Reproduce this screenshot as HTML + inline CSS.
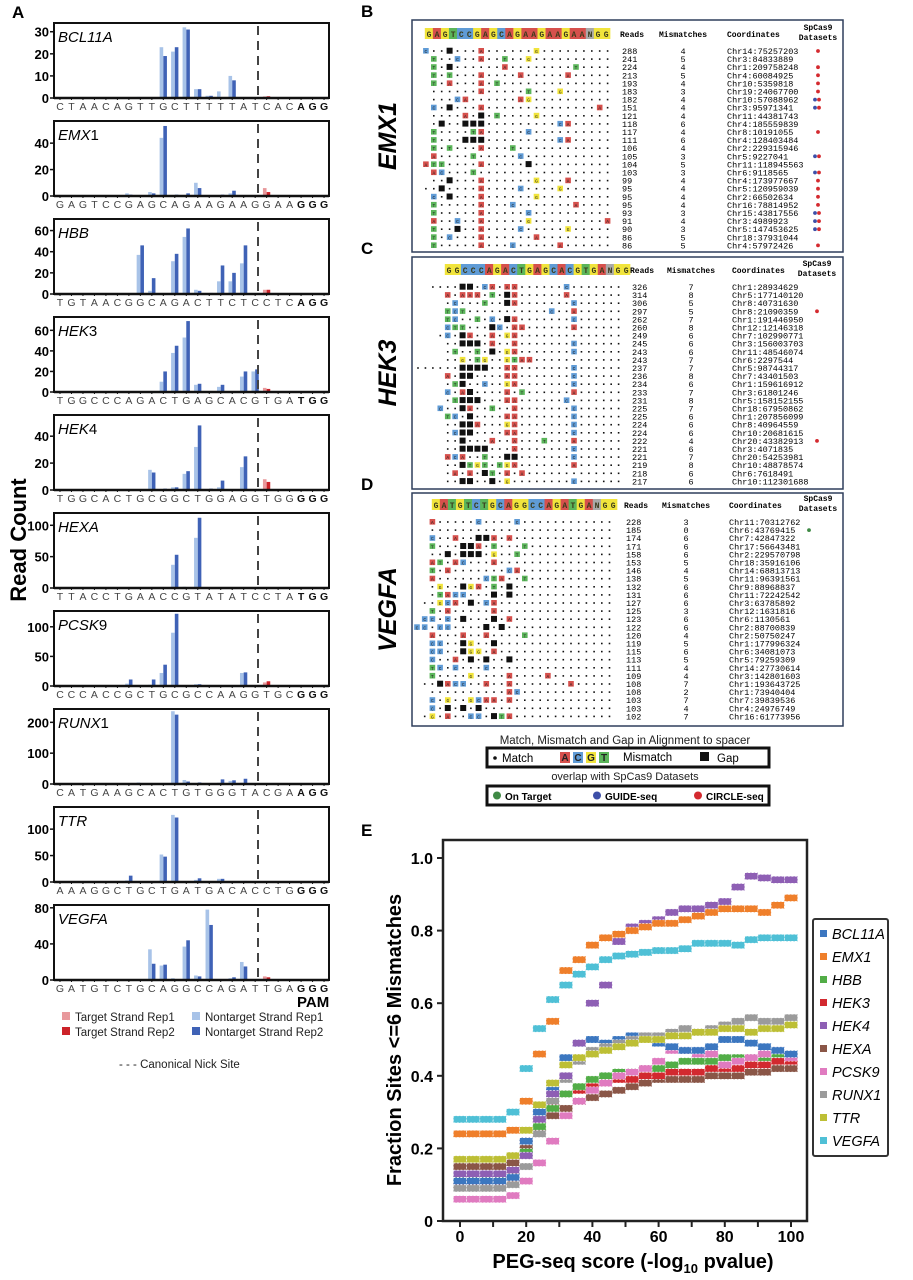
<!DOCTYPE html>
<html><head><meta charset="utf-8"><style>
html,body{margin:0;padding:0;background:#fff;}
svg{display:block;font-family:"Liberation Sans",sans-serif;}
.mono{font-family:"Liberation Mono",monospace;}
</style></head><body>
<svg id="fig" width="913" height="1280" viewBox="0 0 913 1280" xmlns="http://www.w3.org/2000/svg"></svg>
<script>
// ---------- Panel A data ----------
const genes = ["BCL11A","EMX1","HBB","HEK3","HEK4","HEXA","PCSK9","RUNX1","TTR","VEGFA"];
const geneLabels = [["BCL11A",""],["EMX","1"],["HBB",""],["HEK","3"],["HEK","4"],["HEXA",""],["PCSK","9"],["RUNX","1"],["TTR",""],["VEGFA",""]];
const seqs = ["CTAACAGTTGCTTTTTATCACAGG","GAGTCCGAGCAGAAGAAGGAAGGG","TGTAACGGCAGACTTCTCCTCAGG","TGGCCCAGACTGAGCACGTGATGG","TGGCACTGCGGCTGGAGGTGGGGG","TTACCTGAACCGTATATCCTATGG","CCCACCGCTGCGCCAAGGTGCGGG","CATGAAGCACTGTGGGTACGAAGG","AAAGGCTGCTGATGACACCTGGGG","GATGTCTGCAGGCCAGATTGAGGG"];
const yMaxs = [33.5,56,70,72,55,118,125,240,140,82];
const yTicks = [[0,10,20,30],[0,20,40],[0,20,40,60],[0,20,40,60],[0,20,40],[0,50,100],[0,50,100],[0,100,200],[0,50,100],[0,40,80]];
const ntRep1 = [
 {7:0.5,9:23,10:21,11:32,12:4,13:1,14:3,15:10},
 {6:2,8:3,9:44,12:10,15:2},
 {7:37,8:3,10:31,11:54,12:4,14:12,15:12,16:29},
 {9:10,10:38,11:53,12:7,14:5,16:15,17:20},
 {8:15,10:2,11:12,12:32,14:2,16:17},
 {10:37,11:2,12:80},
 {6:4,7:1,8:2,9:22,10:90,12:3,16:22},
 {7:5,10:236,11:13,12:3,14:4,15:10,16:4},
 {6:3,9:52,10:127,12:4,14:6,16:2},
 {8:34,9:16,10:2,11:37,12:5,13:78,15:2,16:20}
];
const ntRep2 = [
 {9:19,10:23,11:31,12:4,13:1,15:8},
 {6:1,8:2,9:53,10:1,11:2,12:6,14:1,15:4},
 {7:46,8:15,10:38,11:62,12:3,13:1,14:27,15:20,16:46},
 {9:20,10:45,11:69,12:8,13:1,14:7,16:20,17:22},
 {8:13,9:1,10:2,11:14,12:48,13:1,14:7,16:25},
 {10:53,11:1,12:112},
 {6:11,7:1,8:11,9:36,10:122,12:3,16:23},
 {7:1,10:225,11:8,12:5,14:15,15:12,16:17},
 {6:12,9:48,10:122,12:7,14:6,16:2},
 {8:18,9:17,11:44,12:4,13:61,15:3,16:15}
];
const tRep1 = [{18:0.7},{18:6},{18:4},{18:4},{18:8},{},{18:6},{},{},{18:4,19:1}];
const tRep2 = [{18:0.8},{18:3},{18:4},{18:3},{18:6},{},{18:8},{},{},{18:3,19:1}];

// ---------- Panel B-D data ----------
const bHeader = "GAGTCCGAGCAGAAGAAGAANGG";
const bReads = [288,241,224,213,193,183,182,151,121,118,117,111,106,105,104,103,99,95,95,95,93,91,90,86,86];
const bMism = [4,5,4,5,4,3,4,4,4,6,4,6,4,3,5,3,4,4,4,4,3,4,3,5,5];
const bCoords = ["Chr14:75257203","Chr3:84833889","Chr1:209758248","Chr4:60084925","Chr10:5359818","Chr19:24067700","Chr10:57088962","Chr3:95971341","Chr11:44381743","Chr4:185559839","Chr8:10191055","Chr4:128403484","Chr2:229315946","Chr5:9227041","Chr11:118945563","Chr6:9118565","Chr4:173977667","Chr5:120959039","Chr2:66502634","Chr16:78814952","Chr15:43817556","Chr3:4989923","Chr5:147453625","Chr18:37931044","Chr4:57972426"];
const bSets = ["r","","r","r","r","r","br","br","","","r","","","br","","br","r","r","r","r","br","br","br","","r"];
const bRows = ["1:1C,4#,8A,15G","2:2T,5C,8A,11T,14G","2:2T,4#,11A,20T","2:2T,4T,8A,13A,19A","2:2T,4A,8A,10T","2:8A,14T,18G","2:5C,6A,13A,14G","2:2C,4#,8A,23A","2:6A,8#,10T,15G","2:3#,6#,7#,8#,18C,19A","2:2T,7T,8A,14C","2:2T,6#,7#,8#,18C,19A","2:2T,4T,8A,12T","2:2A,7T,13C","1:1A,2T,3T,8A,14#","2:2A,3C,7T","2:4#,8A,15G,19A","1:3#,8A,13C,18G","2:2C,4#,8A,15G","2:2T,8A,12C,20A","2:2T,8A,14C","2:2A,5C,8A,14G,24A","2:2T,5#,8A,13C,19G","2:2T,4C,8A,15A","2:2T,8A,12C,18A"];

const cHeader = "GGCCCAGACTGAGCACGTGANGG";
const cReads = [326,314,306,297,262,260,249,245,243,243,237,236,234,233,231,225,225,224,224,222,221,221,219,218,217];
const cMism = [7,8,5,5,7,8,6,6,6,7,7,8,6,7,8,7,6,6,6,4,6,7,8,6,6];
const cCoords = ["Chr1:28934629","Chr5:177140120","Chr8:40731630","Chr8:21090359","Chr1:191446950","Chr12:12146318","Chr7:102990771","Chr3:156003703","Chr11:48546074","Chr6:2297544","Chr5:98744317","Chr7:43401503","Chr1:159616912","Chr3:61801246","Chr5:158152155","Chr18:67950862","Chr1:207856099","Chr8:40964559","Chr10:20681615","Chr20:43382913","Chr3:4071835","Chr20:54253981","Chr10:48878574","Chr6:7618491","Chr10:112301688"];
const cSets = ["","","","r","","","","","","","","","","","","","","","","r","","","","",""];
const cRows = ["2:6#,7#,9C,10A,12A,13A,20C","4:4A,6A,7A,8A,10T,12#,13A,20A","4:5C,9T,12#,13A,21C","4:4T,5C,6T,18C,21A","4:4T,5C,8T,10C,12#,13A,21C","4:4C,5T,6T,10#,11C,13A,14A,21A","3:4C,6#,7A,10A,12G,13A","4:6#,7#,8#,10A,13A,21C","4:5T,8T,10#,12G,13A,21C","4:6G,8T,9G,12G,13T,14A,15A","0:6#,7#,8#,9#,12A,13A,21C","4:4A,6#,7#,12A,13A,21C","4:5T,6#,9C,12G,13A,21C","4:4C,6A,7#,12A,14T,21A","4:5T,6#,7#,8#,12A,13A,20C","3:3C,6#,7A,10T,13A,21C","4:4T,5C,7#,12A,13A,21C","4:6#,7#,8A,12G,13A,21C","4:5C,6#,7#,12A,13A,21C","4:6#,10A,13A,17T,21A","4:6#,7#,8#,9#,13A,21C","4:4A,5C,6A,9T,12#,13#,21C","4:6#,7T,8G,9T,11T,12G,13A,21A","4:5A,7A,9#,10T,12A,14A","4:6#,7#,10#,12G,21C"];

const dHeader = "GATGTCTGCAGGCCAGATGANGG";
const dReads = [228,185,174,171,158,153,146,138,132,131,127,125,123,122,120,119,115,113,111,109,108,108,103,103,102];
const dMism = [3,0,6,6,6,5,4,5,6,6,6,3,6,6,4,5,6,5,4,4,7,2,7,4,7];
const dCoords = ["Chr11:70312762","Chr6:43769415","Chr7:42847322","Chr17:56643481","Chr2:229570798","Chr18:35916106","Chr14:68813713","Chr11:96391561","Chr9:88968837","Chr11:72242542","Chr3:63785892","Chr12:1631816","Chr6:1130561","Chr2:88700839","Chr2:50750247","Chr1:177996324","Chr6:34081073","Chr5:79259309","Chr14:27730614","Chr3:142801603","Chr1:193643725","Chr1:73940404","Chr7:39839536","Chr4:24976749","Chr16:61773956"];
const dSets = ["","g","","","","","","","","","","","","","","","","","","","","","","",""];
const dRows = ["2:2A,8C,13C","2:","2:2C,5A,8#,9#,10A,12A","2:2T,6#,7#,8A,10T,14T","2:4#,6#,7#,8#,10G,13T","2:2A,3T,5A,6C,10A","2:2T,4A,12C,13A","2:2A,9C,10T,11A,14T","2:3G,6#,7G,8A,10T,12#","2:3T,4A,5C,6C,10#,12#","1:3G,4C,5A,7#,9C,10A","2:2T,4A,10A","1:1C,2C,4C,6#,10#,12A","0:0C,1C,3C,4C,9#,11#","2:2A,6A,9A,14T","2:2C,3C,6#,7G,10#","2:2C,3C,6#,7G,8G,10A","2:2C,5A,7#,9#,12#","2:2T,3C,5C,9C","2:2T,7G,12A,17A","1:3#,4A,5C,6C,9A,12A,20A","2:12A,13C","2:2C,4G,7G,8C,9A,10A,12A","2:2C,4#,6#,8#","1:2G,4A,7C,8C,10#,11T,12A"];

// ---------- Panel E data ----------
const eX = [0,4,8,12,16,20,24,28,32,36,40,44,48,52,56,60,64,68,72,76,80,84,88,92,96,100];
const eNames = ["BCL11A","EMX1","HBB","HEK3","HEK4","HEXA","PCSK9","RUNX1","TTR","VEGFA"];
const eBCL11A = [0.11,0.11,0.11,0.11,0.12,0.22,0.30,0.36,0.45,0.49,0.50,0.49,0.50,0.51,0.50,0.49,0.48,0.47,0.47,0.48,0.50,0.50,0.49,0.48,0.47,0.46];
const eEMX1 = [0.24,0.24,0.24,0.24,0.25,0.33,0.46,0.55,0.69,0.72,0.76,0.78,0.79,0.80,0.81,0.82,0.82,0.83,0.84,0.85,0.86,0.86,0.86,0.85,0.87,0.89];
const eHBB = [0.12,0.12,0.12,0.12,0.13,0.19,0.26,0.31,0.35,0.37,0.39,0.40,0.41,0.41,0.42,0.42,0.43,0.44,0.44,0.44,0.45,0.45,0.45,0.45,0.46,0.46];
const eHEK3 = [0.10,0.10,0.10,0.10,0.11,0.22,0.28,0.32,0.35,0.36,0.37,0.38,0.39,0.39,0.40,0.40,0.41,0.41,0.41,0.42,0.42,0.42,0.43,0.43,0.44,0.44];
const eHEK4 = [0.13,0.13,0.13,0.13,0.14,0.18,0.28,0.35,0.40,0.49,0.60,0.65,0.77,0.81,0.82,0.83,0.85,0.86,0.86,0.87,0.88,0.92,0.95,0.945,0.94,0.94];
const eHEXA = [0.15,0.15,0.15,0.15,0.16,0.20,0.25,0.29,0.31,0.33,0.34,0.35,0.36,0.37,0.38,0.39,0.39,0.39,0.39,0.40,0.40,0.40,0.41,0.41,0.42,0.42];
const ePCSK9 = [0.06,0.06,0.06,0.06,0.07,0.11,0.16,0.22,0.29,0.33,0.36,0.38,0.40,0.41,0.42,0.44,0.47,0.47,0.46,0.46,0.43,0.44,0.45,0.46,0.47,0.45];
const eRUNX1 = [0.09,0.09,0.09,0.09,0.10,0.15,0.24,0.33,0.39,0.44,0.47,0.48,0.49,0.50,0.51,0.51,0.52,0.53,0.52,0.53,0.54,0.55,0.56,0.55,0.55,0.56];
const eTTR = [0.17,0.17,0.17,0.17,0.18,0.25,0.32,0.38,0.43,0.45,0.46,0.47,0.48,0.49,0.50,0.50,0.51,0.51,0.52,0.52,0.53,0.53,0.52,0.53,0.53,0.54];
const eVEGFA = [0.28,0.28,0.28,0.28,0.30,0.42,0.53,0.61,0.65,0.68,0.70,0.72,0.73,0.735,0.74,0.745,0.745,0.75,0.765,0.765,0.765,0.76,0.775,0.78,0.78,0.78];
const eYTicks = [0,0.2,0.4,0.6,0.8,1.0];
const eYTickLabels = ["0","0.2","0.4","0.6","0.8","1.0"];
const eXTicks = [0,20,40,60,80,100];

const SVGNS = "http://www.w3.org/2000/svg";
const svg = document.getElementById("fig");
function mk(tag, name, attrs, parent) {
  const el = document.createElementNS(SVGNS, tag);
  
  
  for (const k in attrs) el.setAttribute(k, attrs[k]);
  (parent || svg).appendChild(el);
  return el;
}
function txt(name, x, y, s, attrs, parent) {
  const el = mk('text', name, attrs, parent);
  el.setAttribute('x', x); el.setAttribute('y', y);
  el.textContent = s;
  return el;
}
const baseCol = {A:"#d6504c",C:"#5f9bd6",G:"#f1e43c",T:"#5bb55a",N:"#a9a9a9"};

// ===== Panel A =====
txt('panel-a-label', 12, 18, 'A', {'font-size':17,'font-weight':'bold'});
txt('read-count-axis-title', 0, 0, 'Read Count', {'font-size':22,'font-weight':'bold','text-anchor':'middle','transform':'translate(26,540) rotate(-90)'});
const AX0 = 54, AX1 = 329, LX0 = 60, LP = 11.48, NICK = 258;
genes.forEach((g, i) => {
  const top = 23 + i*98, base = top + 75;
  const grp = mk('g', 'subplot-' + g.toLowerCase(), {});
  const yMax = yMaxs[i];
  const ys = v => base - v / yMax * (base - top - 1);
  const L = ntRep1[i], D = ntRep2[i], R1 = tRep1[i], R2 = tRep2[i];
  const lx = k => LX0 + k*LP;
  for (const k in L) mk('rect', 'bar-nontarget-rep1', {x: lx(+k)-3.7, y: ys(L[k]), width: 3.6, height: base-ys(L[k]), fill:'#a8c3e8'}, grp);
  for (const k in D) mk('rect', 'bar-nontarget-rep2', {x: lx(+k), y: ys(D[k]), width: 3.6, height: base-ys(D[k]), fill:'#3f62b6'}, grp);
  for (const k in R1) mk('rect', 'bar-target-rep1', {x: lx(+k)-3.7, y: ys(R1[k]), width: 3.6, height: base-ys(R1[k]), fill:'#e8999c'}, grp);
  for (const k in R2) mk('rect', 'bar-target-rep2', {x: lx(+k), y: ys(R2[k]), width: 3.6, height: base-ys(R2[k]), fill:'#cc2229'}, grp);
  mk('line', 'nick-site-line', {x1:NICK, x2:NICK, y1:top+3, y2:base, stroke:'#444', 'stroke-width':2, 'stroke-dasharray':'9,6'}, grp);
  mk('rect', 'plot-frame', {x:AX0, y:top, width:AX1-AX0, height:base-top, fill:'none', stroke:'#111', 'stroke-width':2}, grp);
  mk('line', 'x-axis-line', {x1:AX0, x2:AX1, y1:base, y2:base, stroke:'#111','stroke-width':2.5}, grp);
  yTicks[i].forEach(t => {
    mk('line','y-tick',{x1:AX0-4,x2:AX0,y1:ys(t),y2:ys(t),stroke:'#111','stroke-width':1.5},grp);
    txt('y-tick-label', AX0-5, ys(t)+5, String(t), {'font-size':13,'font-weight':'bold','text-anchor':'end'}, grp);
  });
  const gl = txt('gene-label', 58, top+19, geneLabels[i][0], {'font-size':15,'font-style':'italic'}, grp);
  if (geneLabels[i][1]) { const ts = mk('tspan','gene-label-number',{'font-style':'normal'},gl); ts.textContent = geneLabels[i][1]; }
  const s = seqs[i];
  for (let k = 0; k < s.length; k++) {
    mk('line','letter-tick',{x1:lx(k),x2:lx(k),y1:base,y2:base+2,stroke:'#111','stroke-width':1},grp);
    txt('sequence-letter', lx(k), base+12, s[k], {'font-size':10.5,'text-anchor':'middle','fill': k>=s.length-3?'#111':'#444','font-weight': k>=s.length-3?'bold':'normal'}, grp);
  }
});
txt('pam-label', 297, 1007, 'PAM', {'font-size':15,'font-weight':'bold'});
const legA = [[62,1012,'#e8999c','Target Strand Rep1'],[62,1027,'#cc2229','Target Strand Rep2'],[192,1012,'#a8c3e8','Nontarget Strand Rep1'],[192,1027,'#3f62b6','Nontarget Strand Rep2']];
legA.forEach(l => {
  mk('rect','legend-swatch',{x:l[0],y:l[1],width:8,height:8,fill:l[2]});
  txt('legend-entry', l[0]+13, l[1]+9, l[3], {'font-size':11.5,'fill':'#222'});
});
txt('nick-legend-entry', 119, 1068, '- - - Canonical Nick Site', {'font-size':11.5,'fill':'#222'});

// ===== Panels B-D =====
function panel(opts) {
  const g = mk('g', 'panel-' + opts.id, {});
  txt('panel-' + opts.id + '-label', 361, opts.labelY, opts.id.toUpperCase(), {'font-size':17,'font-weight':'bold'}, g);
  mk('rect', 'alignment-box', {x:412, y:opts.top, width:431, height:opts.bottom-opts.top, fill:'none', stroke:'#2f3e5c', 'stroke-width':1.5}, g);
  txt('target-name', 0, 0, opts.name, {'font-size':25,'font-weight':'bold','font-style':'italic','text-anchor':'middle','transform':'translate(396,' + ((opts.top+opts.bottom)/2) + ') rotate(-90)'}, g);
  const hp = 8.05;
  for (let k = 0; k < opts.header.length; k++) {
    const c = opts.header[k];
    const hx = opts.hx + k*hp;
    mk('rect','header-base-box',{x:hx-0.2,y:opts.hy-6,width:hp+0.4,height:11,fill: (k>=opts.header.length-2)?'#f1e43c':baseCol[c]},g);
    txt('header-base', hx+hp/2, opts.hy+3, c, {'font-size':8,'font-weight':'bold','text-anchor':'middle','class':'mono','fill':'#3a3a1a'}, g);
  }
  txt('reads-header', opts.readX-2, opts.hy+3, 'Reads', {'font-size':8,'font-weight':'bold','class':'mono'}, g);
  txt('mismatches-header', opts.misX, opts.hy+3, 'Mismatches', {'font-size':8,'font-weight':'bold','class':'mono','text-anchor':'middle'}, g);
  txt('coordinates-header', opts.coordX, opts.hy+3, 'Coordinates', {'font-size':8,'font-weight':'bold','class':'mono'}, g);
  txt('datasets-header', opts.setX, opts.hy-4, 'SpCas9', {'font-size':8,'font-weight':'bold','class':'mono','text-anchor':'middle'}, g);
  txt('datasets-header', opts.setX, opts.hy+6, 'Datasets', {'font-size':8,'font-weight':'bold','class':'mono','text-anchor':'middle'}, g);
  opts.rows.forEach((r, i) => {
    const y = opts.ry + i*8.1;
    const parts = r.split(':');
    const start = +parts[0];
    const marks = {};
    if (parts[1]) parts[1].split(',').forEach(m => { marks[parseInt(m)] = m.replace(/[0-9]/g,''); });
    for (let c = start; c < opts.ncol; c++) {
      const cx = opts.rx + c*opts.rp;
      const m = marks[c];
      if (!m) mk('rect','match-dot',{x:cx-0.8,y:y-1.8,width:1.6,height:1.6,fill:'#111'},g);
      else if (m === '#') mk('rect','gap-cell',{x:cx-3,y:y-4.3,width:6,height:6,fill:'#111'},g);
      else {
        mk('rect','mismatch-cell',{x:cx-2.8,y:y-4,width:5.6,height:5.6,fill:baseCol[m]},g);
        txt('mismatch-base', cx, y+1, m, {'font-size':4.5,'text-anchor':'middle','class':'mono','fill':'#222'}, g);
      }
    }
    txt('reads-value', opts.readX, y+2, String(opts.reads[i]), {'font-size':8.5,'class':'mono'}, g);
    txt('mismatch-value', opts.misX, y+2, String(opts.mism[i]), {'font-size':8.5,'class':'mono','text-anchor':'middle'}, g);
    txt('coordinate-value', opts.coordX, y+2, opts.coords[i], {'font-size':8.5,'class':'mono'}, g);
    const s = opts.sets[i];
    if (s === 'r') mk('circle','circle-seq-dot',{cx:opts.setX,cy:y-1,r:1.9,fill:'#d42a2f'},g);
    if (s === 'g') mk('circle','on-target-dot',{cx:opts.setX-9,cy:y-1,r:1.9,fill:'#3f8a45'},g);
    if (s === 'br') {
      mk('circle','guide-seq-dot',{cx:opts.setX-3,cy:y-1,r:1.9,fill:'#3d4fa8'},g);
      mk('circle','circle-seq-dot',{cx:opts.setX+1,cy:y-1,r:1.9,fill:'#d42a2f'},g);
    }
  });
}
panel({id:'b', name:'EMX1', labelY:17, top:20, bottom:252, header:bHeader, hx:425, hy:34, rows:bRows, rx:418, rp:7.9, ncol:25, ry:52, reads:bReads, mism:bMism, coords:bCoords, sets:bSets, readX:622, misX:683, coordX:727, setX:818});
panel({id:'c', name:'HEK3', labelY:254, top:257, bottom:489, header:cHeader, hx:445, hy:270, rows:cRows, rx:418, rp:7.43, ncol:28, ry:288, reads:cReads, mism:cMism, coords:cCoords, sets:cSets, readX:632, misX:691, coordX:732, setX:817});
panel({id:'d', name:'VEGFA', labelY:490, top:493, bottom:726, header:dHeader, hx:432, hy:505, rows:dRows, rx:417, rp:7.7, ncol:26, ry:523, reads:dReads, mism:dMism, coords:dCoords, sets:dSets, readX:626, misX:686, coordX:729, setX:818});

txt('alignment-legend-title', 625, 744, 'Match, Mismatch and Gap in Alignment to spacer', {'font-size':11.5,'text-anchor':'middle','fill':'#222'});
mk('rect','alignment-legend-box',{x:487,y:748,width:282,height:19,fill:'none',stroke:'#111','stroke-width':3});
mk('circle','match-legend-dot',{cx:495,cy:758,r:1.8,fill:'#111'});
txt('match-legend-label', 502, 762, 'Match', {'font-size':11.5});
['A','C','G','T'].forEach((b,k) => {
  mk('rect','mismatch-legend-box',{x:560+k*13,y:752,width:10,height:11,fill:baseCol[b]});
  txt('mismatch-legend-base', 565+k*13, 761, b, {'font-size':10,'font-weight':'bold','text-anchor':'middle','fill':'#222'});
});
txt('mismatch-legend-label', 623, 761, 'Mismatch', {'font-size':11.5});
mk('rect','gap-legend-box',{x:700,y:752,width:9,height:9,fill:'#111'});
txt('gap-legend-label', 717, 762, 'Gap', {'font-size':11.5});
txt('datasets-legend-title', 625, 780, 'overlap with SpCas9  Datasets', {'font-size':11,'text-anchor':'middle','fill':'#222'});
mk('rect','datasets-legend-box',{x:487,y:786,width:282,height:19,fill:'none',stroke:'#111','stroke-width':3});
[[497,'#3f8a45','On Target'],[597,'#3d4fa8','GUIDE-seq'],[698,'#d42a2f','CIRCLE-seq']].forEach(d => {
  mk('circle','dataset-legend-dot',{cx:d[0],cy:795.5,r:4,fill:d[1]});
  txt('dataset-legend-label', d[0]+8, 800, d[2], {'font-size':10,'font-weight':'bold'});
});

// ===== Panel E =====
txt('panel-e-label', 361, 836, 'E', {'font-size':17,'font-weight':'bold'});
const exs = v => 460 + v * 3.31;
const eys = v => 1221 - v * 363;
const eSeries = [eBCL11A,eEMX1,eHBB,eHEK3,eHEK4,eHEXA,ePCSK9,eRUNX1,eTTR,eVEGFA];
const eColors = ["#3c77c0","#ef7f2b","#52ad47","#d2292f","#8e5fb4","#8a5647","#e07bc0","#9b9b9b","#bdbf35","#4fc0d6"];
const eDraw = [5,3,2,6,0,7,8,4,1,9];
eDraw.forEach(si => {
  const g = mk('g','series-' + eNames[si].toLowerCase(),{});
  const vals = eSeries[si];
  eX.forEach((x, k) => {
    const w = 3.31*4;
    mk('rect','series-point',{x:exs(x)-w/2,y:eys(vals[k])-3.5,width:w,height:7,fill:eColors[si],'stroke':'#fff','stroke-width':0.6,'stroke-dasharray':'2,1.5'},g);
  });
});
mk('rect','plot-e-frame',{x:443,y:840,width:364,height:381,fill:'none',stroke:'#222','stroke-width':2.5});
eYTicks.forEach((t,k) => {
  mk('line','y-tick',{x1:437,x2:443,y1:eys(t),y2:eys(t),stroke:'#222','stroke-width':2});
  txt('y-tick-label', 433, eys(t)+6, eYTickLabels[k], {'font-size':16,'font-weight':'bold','text-anchor':'end'});
});
for (let v = 0; v <= 100; v += 10) mk('line','x-tick',{x1:exs(v),x2:exs(v),y1:1221,y2:1227,stroke:'#222','stroke-width':2});
eXTicks.forEach(t => txt('x-tick-label', exs(t), 1242, String(t), {'font-size':16,'font-weight':'bold','text-anchor':'middle'}));
const xt = txt('x-axis-title', 633, 1268, 'PEG-seq score (-log', {'font-size':20,'font-weight':'bold','text-anchor':'middle'});
const sub = mk('tspan','x-axis-title-subscript',{'font-size':13,'dy':5},xt); sub.textContent = '10';
const rest = mk('tspan','x-axis-title-end',{'dy':-5},xt); rest.textContent = ' pvalue)';
txt('y-axis-title', 0, 0, 'Fraction Sites <=6 Mismatches', {'font-size':20,'font-weight':'bold','text-anchor':'middle','transform':'translate(401,1040) rotate(-90)'});
mk('rect','legend-e-box',{x:813,y:919,width:75,height:237,fill:'#fff',stroke:'#333','stroke-width':2,rx:2});
eNames.forEach((n,k) => {
  const y = 934 + k*23;
  mk('rect','legend-e-swatch',{x:820,y:y-4,width:7,height:7,fill:eColors[k]});
  txt('legend-e-entry', 832, y+5, n, {'font-size':14.5,'font-style':'italic'});
});
</script>
</body></html>
